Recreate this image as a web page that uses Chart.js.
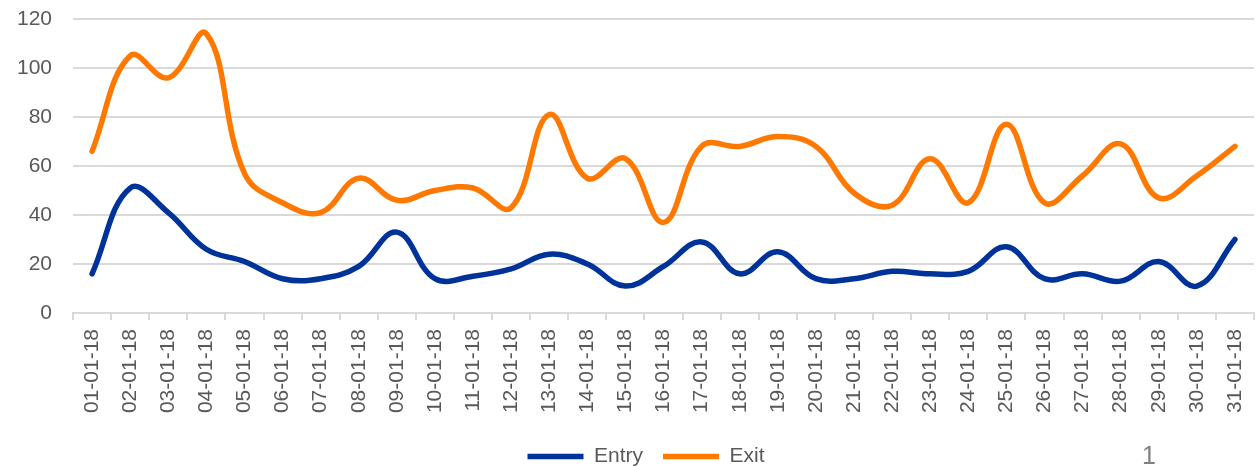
<!DOCTYPE html>
<html>
<head>
<meta charset="utf-8">
<script src="https://cdn.jsdelivr.net/npm/chart.js@4"></script>
<style>
  html, body { margin: 0; padding: 0; background: #fff; overflow: hidden; }
  #wrap { position: relative; width: 1257px; height: 477px; }
  #pageno { position: absolute; left: 1142px; top: 441px; font: 25px "Liberation Sans", Arial, sans-serif; color: #7f7f7f; }
</style>
</head>
<body>
<div id="wrap">
  <canvas id="c"></canvas>
  <span id="pageno">1</span>
</div>
<script>
'use strict';

// Daily entry / exit counts, January 2018
const days = [
  '01-01-18', '02-01-18', '03-01-18', '04-01-18', '05-01-18', '06-01-18', '07-01-18', '08-01-18',
  '09-01-18', '10-01-18', '11-01-18', '12-01-18', '13-01-18', '14-01-18', '15-01-18', '16-01-18',
  '17-01-18', '18-01-18', '19-01-18', '20-01-18', '21-01-18', '22-01-18', '23-01-18', '24-01-18',
  '25-01-18', '26-01-18', '27-01-18', '28-01-18', '29-01-18', '30-01-18', '31-01-18'
];
const entry = [16, 51, 41, 26, 21, 14, 14, 19, 33, 14, 15, 18, 24, 20, 11, 19,
               29, 16, 25, 14, 14, 17, 16, 17, 27, 14, 16, 13, 21, 11, 30];
const exit  = [66, 105, 96, 114, 57, 45, 41, 55, 46, 50, 51, 43, 81, 55, 63, 37,
               68, 68, 72, 68, 49, 44, 63, 45, 77, 45, 56, 69, 47, 56, 68];
const yTicks = { min: 0, max: 120, step: 20 };

const FONT = '"Liberation Sans", Arial, sans-serif';
const TEXT = '#595959';
const GRID = '#d9d9d9';

const $ = (id) => document.getElementById(id);

// Legend in the original sits a little right of the canvas centre.
const legendShift = {
  id: 'legendShift',
  afterLayout(c) { c.legend.left += 21; c.legend.right += 21; },
};

new Chart($('c'), {
  type: 'line',
  data: {
    labels: days,
    datasets: [
      { label: 'Entry', data: entry, borderColor: '#003399', backgroundColor: '#003399',
        borderWidth: 5.5, borderCapStyle: 'round', tension: 0.4, pointRadius: 0, fill: false },
      { label: 'Exit', data: exit, borderColor: '#ff7800', backgroundColor: '#ff7800',
        borderWidth: 5.5, borderCapStyle: 'round', tension: 0.4, pointRadius: 0, fill: false },
    ],
  },
  plugins: [legendShift],
  options: {
    responsive: true, maintainAspectRatio: false, animation: false,
    layout: { padding: { top: 19, left: -4, right: 3, bottom: 0 } },
    plugins: {
      tooltip: { enabled: false },
      legend: {
        position: 'bottom',
        labels: {
          usePointStyle: true, pointStyle: 'line', pointStyleWidth: 56,
          padding: 20, color: TEXT, font: { family: FONT, size: 21 },
        },
      },
    },
    scales: {
      x: {
        offset: true,
        grid: { offset: true, drawOnChartArea: false, drawTicks: true, tickLength: 7, color: GRID, lineWidth: 2 },
        border: { color: GRID, width: 2 },
        ticks: { color: TEXT, font: { family: FONT, size: 21 }, minRotation: 90, maxRotation: 90, padding: 9, autoSkip: false },
        afterFit: (s) => { s.height = 113; s.paddingRight = 0; },
      },
      y: {
        min: yTicks.min, max: yTicks.max,
        grid: { color: GRID, lineWidth: 2, drawTicks: false },
        border: { display: false },
        ticks: { stepSize: yTicks.step, color: TEXT, font: { family: FONT, size: 21 }, padding: 21 },
        afterFit: (s) => { s.paddingTop = 0; },
      },
    },
  },
});
</script>
</body>
</html>
